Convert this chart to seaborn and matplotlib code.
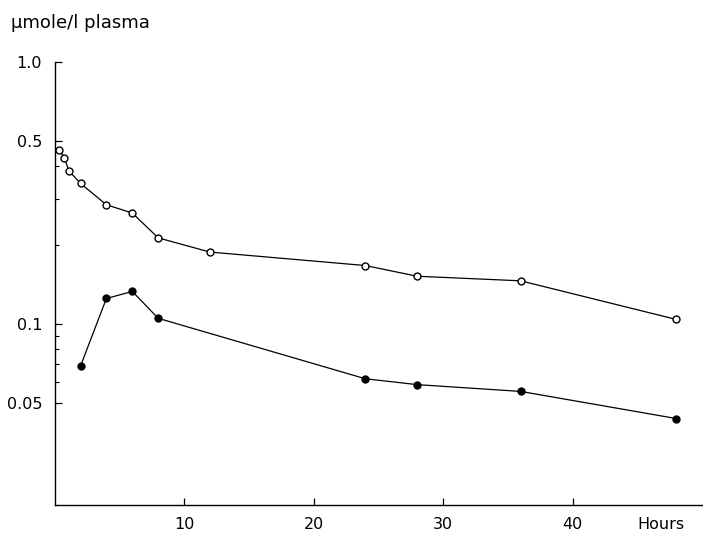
import matplotlib
matplotlib.use("Agg")
import matplotlib.pyplot as plt
import seaborn as sns
import pandas as pd
from matplotlib.ticker import FixedLocator, NullFormatter

# Data
hours_open = [0.35, 0.75, 1.1, 2, 4, 6, 8, 12, 24, 28, 36, 48]
conc_open = [0.463, 0.431, 0.384, 0.344, 0.285, 0.265, 0.213, 0.188, 0.167, 0.152, 0.146, 0.104]
hours_filled = [2, 4, 6, 8, 24, 28, 36, 48]
conc_filled = [0.069, 0.125, 0.133, 0.105, 0.0617, 0.0586, 0.0552, 0.0435]

x_ticks = [10, 20, 30, 40]
y_ticks = [1.0, 0.5, 0.1, 0.05]
y_tick_labels = ["1.0", "0.5", "0.1", "0.05"]
y_minor = [0.06, 0.07, 0.08, 0.09, 0.2, 0.3, 0.4]

sns.set_theme(style="white")
plt.rcParams["font.family"] = ["DejaVu Sans"]
plt.rcParams["text.color"] = "black"

fig = plt.figure(figsize=(7.03, 5.37), dpi=100)
ax = fig.add_axes([0.0777, 0.0603, 0.9209, 0.8242])

df_open = pd.DataFrame({"h": hours_open, "c": conc_open})
df_filled = pd.DataFrame({"h": hours_filled, "c": conc_filled})

sns.lineplot(data=df_open, x="h", y="c", ax=ax, color="black", linewidth=0.9,
             marker="o", markersize=5, markerfacecolor="white",
             markeredgecolor="black", markeredgewidth=1.0)
sns.lineplot(data=df_filled, x="h", y="c", ax=ax, color="black", linewidth=0.9,
             marker="o", markersize=5, markerfacecolor="black",
             markeredgecolor="black", markeredgewidth=1.0)

ax.set_yscale("log")
ax.set_xlim(0, 50)
ax.set_ylim(0.0204, 1.0)
ax.yaxis.set_major_locator(FixedLocator(y_ticks))
ax.set_yticklabels(y_tick_labels)
ax.yaxis.set_minor_locator(FixedLocator(y_minor))
ax.yaxis.set_minor_formatter(NullFormatter())
ax.set_xticks(x_ticks)
ax.set_xticklabels([str(t) for t in x_ticks])

for s in ["top", "right"]:
    ax.spines[s].set_visible(False)
for s in ["left", "bottom"]:
    ax.spines[s].set_color("black")
    ax.spines[s].set_linewidth(1.0)

ax.tick_params(axis="both", which="major", direction="in", length=5, width=0.9,
               colors="black", labelcolor="black", labelsize=11.5, left=True,
               bottom=True, pad=9)
ax.tick_params(axis="y", which="minor", direction="in", length=3, width=0.8,
               colors="black", left=True)
ax.set_xlabel("")
ax.set_ylabel("")

fig.text(0.016, 0.958, "\u03bcmole/l plasma", fontsize=13, ha="left",
         va="center", color="black")
ax.text(46.8, -0.045, "Hours", transform=ax.get_xaxis_transform(), fontsize=11.5,
        ha="center", va="center", color="black")

fig.savefig("out.png", dpi=100)
